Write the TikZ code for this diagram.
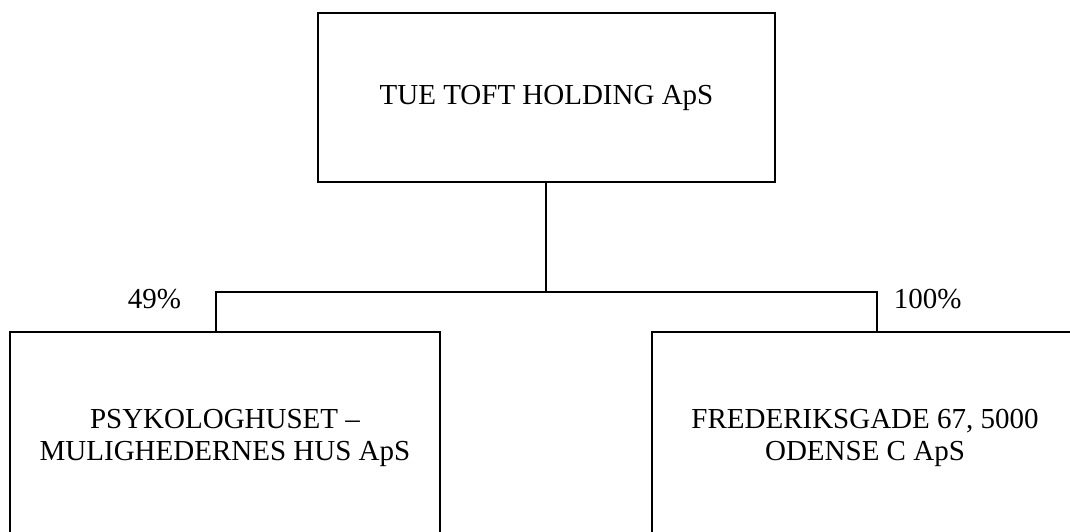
\documentclass[tikz,border=0pt]{standalone}
\usepackage{fontspec}
\setmainfont{Liberation Serif}
\begin{document}
\begin{tikzpicture}[x=1pt,y=-1pt,line width=1.8pt,
  box/.style={draw=black,line width=1.8pt,rectangle,align=center,inner sep=0pt,
    font=\fontsize{29}{32}\selectfont},
  pct/.style={inner sep=0pt,font=\fontsize{29}{32}\selectfont},
  conn/.style={draw=black,line width=1.8pt}]
\useasboundingbox (0,0) rectangle (1070,531);
\clip (0,0) rectangle (1070,531);
\node[box,minimum width=457pt,minimum height=169pt] (top) at (546.5,97.5) {TUE TOFT HOLDING ApS};
\node[box,minimum width=430pt,minimum height=212pt] (left) at (225,438) {PSYKOLOGHUSET --\\MULIGHEDERNES HUS ApS};
\node[box,minimum width=426pt,minimum height=212pt] (right) at (865,438) {FREDERIKSGADE 67, 5000\\ODENSE C ApS};
\coordinate (lj) at (216,292);
\coordinate (rj) at (877,292);
\coordinate (mj) at (546,292);
\draw[conn] (mj |- top.south) -- (mj);
\draw[conn,line join=miter] (lj |- left.north) -- (lj) -- (rj) -- (rj |- right.north);
\node[pct,anchor=base east] (p49) at (182,308) {49\%};
\node[pct,anchor=base west] (p100) at (893,308) {100\%};
\end{tikzpicture}
\end{document}
